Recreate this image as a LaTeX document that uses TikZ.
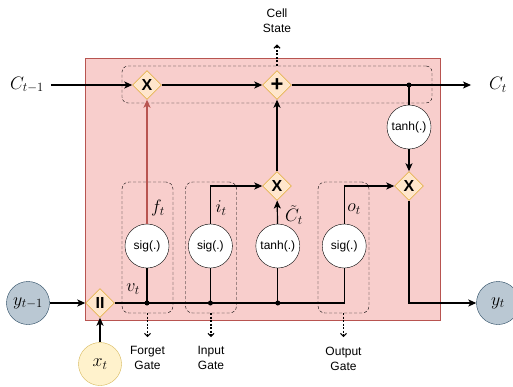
\documentclass[tikz,border=0pt]{standalone}
\usepackage{fix-cm}
\usepackage{amsmath}
\usepackage{fontspec}
\setmainfont{Liberation Sans}
\usepackage{tikz}
\usetikzlibrary{shapes.geometric, arrows.meta, positioning, calc}
\usepackage{xcolor}
\definecolor{cellRed}{HTML}{F8CECC}
\definecolor{cellRedLine}{HTML}{B85450}
\definecolor{opOrange}{HTML}{FFE6CC}
\definecolor{opOrangeLine}{HTML}{D79B00}
\definecolor{inYellow}{HTML}{FFF2CC}
\definecolor{inYellowLine}{HTML}{D6B656}
\definecolor{outBlue}{HTML}{BAC8D3}
\definecolor{outBlueLine}{HTML}{23445D}

\begin{document}
\begin{tikzpicture}[
    x=1pt, y=-1pt,
    node distance=20pt,
    op/.style={diamond, draw=opOrangeLine, fill=opOrange, minimum size=29pt, inner sep=0pt, font=\bfseries\fontsize{16}{16}\selectfont},
    act/.style={circle, draw, fill=white, minimum size=44pt, inner sep=0pt, font=\fontsize{12}{12}\selectfont},
    gatebox/.style={draw, dash pattern=on 3pt off 2pt, rounded corners=7pt, minimum width=51pt, minimum height=131pt},
    vec/.style={circle, minimum size=43pt, inner sep=0pt, font=\fontsize{18}{18}\selectfont},
    mlabel/.style={font=\fontsize{18}{18}\selectfont, inner sep=1pt},
    tlabel/.style={align=center, font=\fontsize{12}{15}\selectfont},
    line/.style={line width=1.2pt},
    arrow/.style={-{Stealth[length=8pt, width=7pt, inset=2pt]}, line width=1.2pt},
    dotarrow/.style={-{Straight Barb[length=3pt, width=6pt]}, line width=1.2pt, dash pattern=on 2pt off 1.5pt},
]
    \useasboundingbox (0,0) rectangle (513,386);

    % LSTM cell
    \node[draw=cellRedLine, fill=cellRed, minimum width=355pt, minimum height=262pt] (cell) at (262.5,189.5) {};
    \node[gatebox, minimum width=310pt, minimum height=37pt, rounded corners=6pt] (cellbox) at (277,84.5) {};
    \node[gatebox] (fgate) at (147.5,247.5) {};
    \node[gatebox] (igate) at (211,247.5) {};
    \node[gatebox] (ogate) at (343.5,247.5) {};

    % operations
    \node[op] (mulF) at (147,85) {X};
    \node[op, font=\bfseries\fontsize{22}{22}\selectfont] (add) at (277,85) {+};
    \node[op] (mulI) at (277,186) {X};
    \node[op] (mulO) at (409,186) {X};
    \node[op] (cat) at (100,303) {II};

    % activations
    \node[act] (sigF) at (147,246) {sig(.)};
    \node[act, right=19pt of sigF] (sigI) {sig(.)};
    \node[act, right=23pt of sigI] (tanhC) {tanh(.)};
    \node[act, right=22pt of tanhC] (sigO) {sig(.)};
    \node[act] (tanhO) at (409,127) {tanh(.)};

    % inputs and outputs
    \node[vec, draw=outBlueLine, fill=outBlue] (yprev) at (28,303) {$y_{t-1}$};
    \node[vec, draw=inYellowLine, fill=inYellow] (xt) at (100,364) {$x_t$};
    \node[vec, draw=outBlueLine, fill=outBlue] (yt) at (498,303) {$y_t$};
    \node[mlabel] (cprev) at (27,85) {$C_{t-1}$};
    \node[mlabel] (ct) at (498,85) {$C_t$};

    % labels
    \node[mlabel] (ft) at (158,208) {$f_t$};
    \node[mlabel] (it) at (221,208) {$i_t$};
    \node[mlabel] (ctil) at (294,215) {$\tilde{C}_t$};
    \node[mlabel] (ot) at (354,209) {$o_t$};
    \node[mlabel] (vt) at (133,289) {$v_t$};
    \node[tlabel] (cstate) at (277,21) {Cell\\State};
    \node[tlabel, below=30pt of fgate] (flabel) {Forget\\Gate};
    \node[tlabel, below=30pt of igate] (ilabel) {Input\\Gate};
    \node[tlabel, below=30pt of ogate] (olabel) {Output\\Gate};

    % cell state line
    \coordinate (jC) at (tanhO |- add);
    \draw[arrow, shorten <=6pt] (cprev) -- (mulF);
    \draw[arrow] (mulF) -- (add);
    \draw[arrow, shorten >=17pt] (add) -- (ct);
    \fill (jC) circle (2.5pt);
    \draw[line] (jC) -- (tanhO);
    \draw[arrow] (tanhO) -- (mulO);

    % input line
    \draw[arrow] (yprev) -- (cat);
    \draw[arrow] (xt) -- (cat);
    \draw[line] (cat) -| (sigO);
    \foreach \g in {sigF, sigI, tanhC} {
        \fill (\g |- cat) circle (2.5pt);
        \draw[line] (\g |- cat) -- (\g);
    }

    % gates
    \draw[arrow, cellRedLine] (sigF) -- (mulF);
    \draw[arrow] (sigI) |- (mulI);
    \draw[arrow] (tanhC) -- (mulI);
    \draw[arrow] (mulI) -- (add);
    \draw[arrow] (sigO) |- (mulO);
    \draw[arrow] (mulO) |- (yt);

    % dotted pointers
    \draw[dotarrow, shorten >=8pt] (cellbox) -- (cstate);
    \draw[dotarrow, shorten >=6pt] (fgate) -- (flabel);
    \draw[dotarrow, shorten >=6pt] (igate) -- (ilabel);
    \draw[dotarrow, shorten >=6pt] (ogate) -- (olabel);
\end{tikzpicture}
\end{document}
